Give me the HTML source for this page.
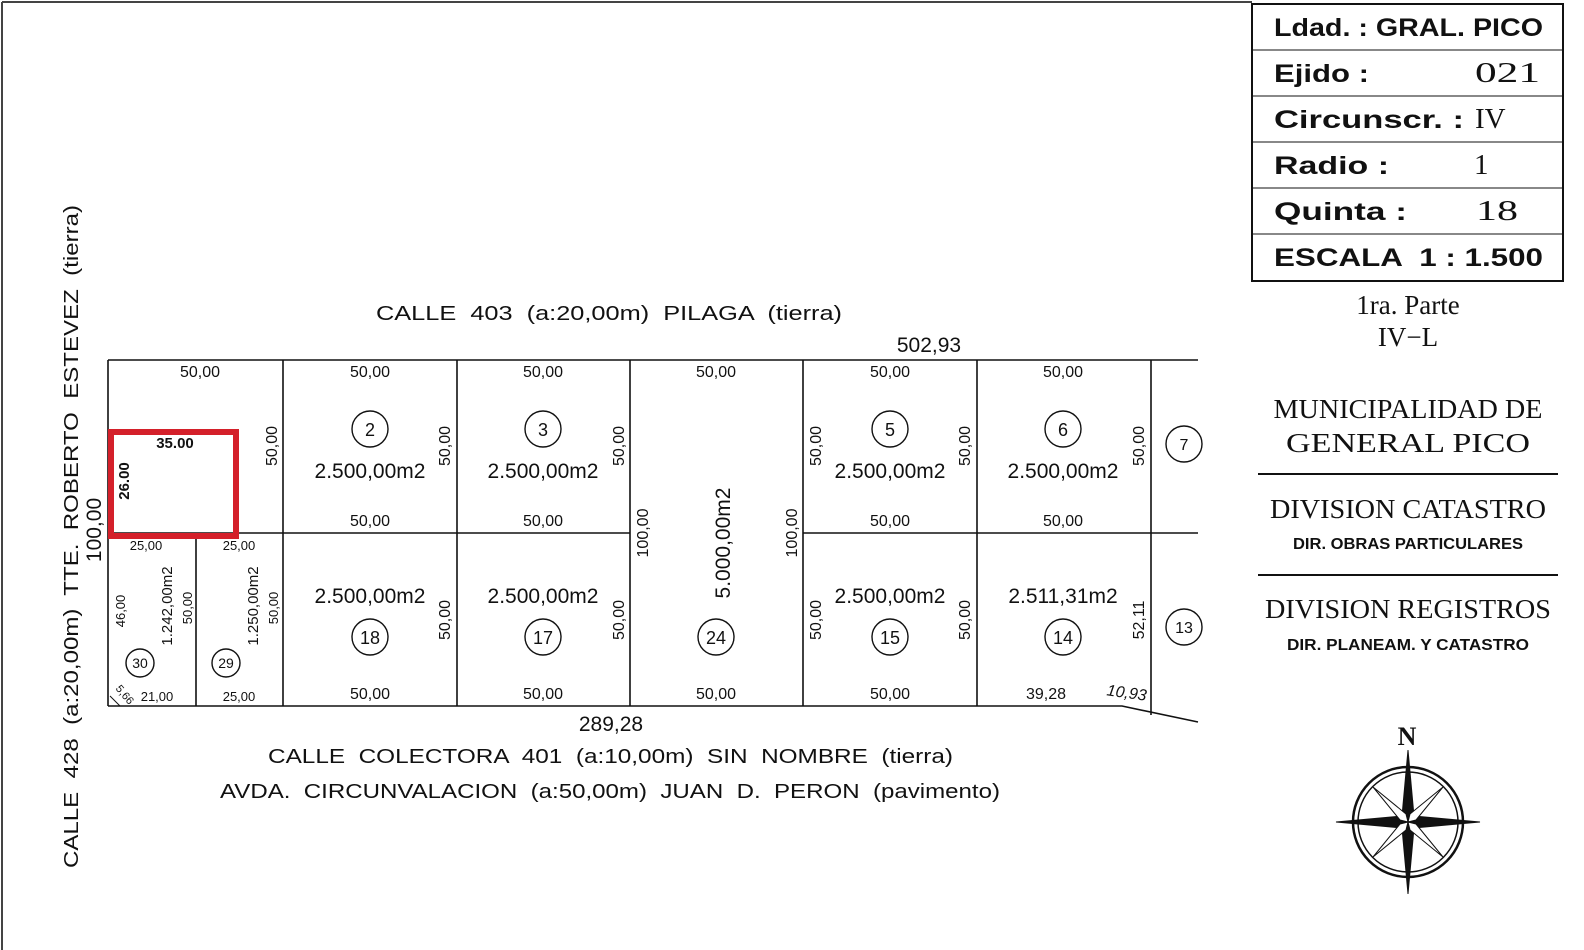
<!DOCTYPE html>
<html><head><meta charset="utf-8"><style>
html,body{margin:0;padding:0;background:#fff;}
svg{display:block;}
text{font-family:"Liberation Sans",sans-serif;fill:#111;white-space:pre;}
.d{font-size:16px;}
.a{font-size:21px;}
.c{font-size:18px;}
.s{font-family:"Liberation Serif",serif;}
</style></head><body>
<svg width="1584" height="950" viewBox="0 0 1584 950" xmlns="http://www.w3.org/2000/svg">
<g stroke="#444" stroke-width="2" fill="none">
<line x1="2" y1="2" x2="1252" y2="2"/>
<line x1="2" y1="2" x2="2" y2="950"/>
</g>
<g stroke="#111" stroke-width="2" fill="none">
<rect x="1252" y="4" width="311" height="277"/>
<line x1="1252" y1="50" x2="1563" y2="50" stroke-width="1"/>
<line x1="1252" y1="96" x2="1563" y2="96" stroke-width="1"/>
<line x1="1252" y1="142" x2="1563" y2="142" stroke-width="1"/>
<line x1="1252" y1="188" x2="1563" y2="188" stroke-width="1"/>
<line x1="1252" y1="234" x2="1563" y2="234" stroke-width="1"/>
</g>
<g font-size="25" font-weight="bold">
<text x="1274" y="36" font-weight="bold" textLength="269" lengthAdjust="spacingAndGlyphs">Ldad. : GRAL. PICO</text>
<text x="1274" y="82" font-weight="bold" textLength="95" lengthAdjust="spacingAndGlyphs">Ejido :</text>
<text x="1475" y="82" class="s" font-weight="normal" font-size="29" textLength="65" lengthAdjust="spacingAndGlyphs">021</text>
<text x="1274" y="128" font-weight="bold" textLength="190" lengthAdjust="spacingAndGlyphs">Circunscr. :</text>
<text x="1475" y="128" class="s" font-weight="normal" font-size="29">IV</text>
<text x="1274" y="174" font-weight="bold" textLength="115" lengthAdjust="spacingAndGlyphs">Radio :</text>
<text x="1474" y="174" class="s" font-weight="normal" font-size="29">1</text>
<text x="1274" y="220" font-weight="bold" textLength="133" lengthAdjust="spacingAndGlyphs">Quinta :</text>
<text x="1476" y="220" class="s" font-weight="normal" font-size="29" textLength="42" lengthAdjust="spacingAndGlyphs">18</text>
<text x="1274" y="266" font-weight="bold" textLength="269" lengthAdjust="spacingAndGlyphs">ESCALA  1 : 1.500</text>
</g>
<g text-anchor="middle">
<text x="1408" y="314" class="s" font-size="27">1ra. Parte</text>
<text x="1408" y="346" class="s" font-size="27">IV−L</text>
<text x="1408" y="418" class="s" font-size="27" textLength="269" lengthAdjust="spacingAndGlyphs">MUNICIPALIDAD DE</text>
<text x="1408" y="452" class="s" font-size="27" textLength="244" lengthAdjust="spacingAndGlyphs">GENERAL PICO</text>
<text x="1408" y="518" class="s" font-size="27" textLength="276" lengthAdjust="spacingAndGlyphs">DIVISION CATASTRO</text>
<text x="1408" y="549" font-size="16" font-weight="bold" textLength="230" lengthAdjust="spacingAndGlyphs">DIR. OBRAS PARTICULARES</text>
<text x="1408" y="618" class="s" font-size="27" textLength="286" lengthAdjust="spacingAndGlyphs">DIVISION REGISTROS</text>
<text x="1408" y="650" font-size="16" font-weight="bold" textLength="242" lengthAdjust="spacingAndGlyphs">DIR. PLANEAM. Y CATASTRO</text>
</g>
<line x1="1258" y1="474" x2="1558" y2="474" stroke="#111" stroke-width="2"/>
<line x1="1258" y1="575" x2="1558" y2="575" stroke="#111" stroke-width="2"/>
<text x="1407" y="745" class="s" font-size="26" font-weight="bold" text-anchor="middle">N</text>
<g transform="translate(1408,822)" stroke="#111" fill="none">
<circle r="55" stroke-width="2.5"/>
<circle r="50" stroke-width="1.5"/>
<g fill="#111" stroke-width="1">
<polygon points="0,-72 6,-6 0,0 -6,-6"/>
<polygon points="0,72 6,6 0,0 -6,6"/>
<polygon points="-72,0 -6,-6 0,0 -6,6"/>
<polygon points="72,0 6,-6 0,0 6,6"/>
<polygon points="-35,-35 -2,-8 0,0 -8,-2" fill="#fff"/>
<polygon points="35,-35 2,-8 0,0 8,-2" fill="#fff"/>
<polygon points="-35,35 -2,8 0,0 -8,2" fill="#fff"/>
<polygon points="35,35 2,8 0,0 8,2" fill="#fff"/>
</g>
</g>
<g stroke="#111" stroke-width="1.6" fill="none">
<line x1="108" y1="360" x2="1198" y2="360"/>
<line x1="108" y1="360" x2="108" y2="706"/>
<polyline points="108,706 1122,706 1198,722"/>
<line x1="108" y1="533" x2="630" y2="533"/>
<line x1="803" y1="533" x2="1198" y2="533"/>
<line x1="283" y1="360" x2="283" y2="706"/>
<line x1="457" y1="360" x2="457" y2="706"/>
<line x1="630" y1="360" x2="630" y2="706"/>
<line x1="803" y1="360" x2="803" y2="706"/>
<line x1="977" y1="360" x2="977" y2="706"/>
<line x1="1151" y1="360" x2="1151" y2="715"/>
<line x1="196" y1="533" x2="196" y2="706"/>
<line x1="110" y1="696" x2="120" y2="706" stroke-width="1"/>
</g>
<g font-size="20">
<text x="376" y="320" textLength="466" lengthAdjust="spacingAndGlyphs">CALLE  403  (a:20,00m)  PILAGA  (tierra)</text>
<text x="929" y="352" text-anchor="middle" font-size="21">502,93</text>
<text x="611" y="731" text-anchor="middle" font-size="21">289,28</text>
<text x="268" y="763" textLength="685" lengthAdjust="spacingAndGlyphs">CALLE  COLECTORA  401  (a:10,00m)  SIN  NOMBRE  (tierra)</text>
<text x="220" y="798" textLength="780" lengthAdjust="spacingAndGlyphs">AVDA.  CIRCUNVALACION  (a:50,00m)  JUAN  D.  PERON  (pavimento)</text>
<text transform="translate(78,868) rotate(-90)" textLength="663" lengthAdjust="spacingAndGlyphs">CALLE  428  (a:20,00m)  TTE.  ROBERTO  ESTEVEZ  (tierra)</text>
<text transform="translate(101,530) rotate(-90)" text-anchor="middle" font-size="21">100,00</text>
</g>
<g text-anchor="middle">
<text x="200" y="377" class="d">50,00</text>
<text x="370" y="377" class="d">50,00</text>
<text x="543" y="377" class="d">50,00</text>
<text x="716" y="377" class="d">50,00</text>
<text x="890" y="377" class="d">50,00</text>
<text x="1063" y="377" class="d">50,00</text>
<text x="370" y="526" class="d">50,00</text>
<text x="543" y="526" class="d">50,00</text>
<text x="890" y="526" class="d">50,00</text>
<text x="1063" y="526" class="d">50,00</text>
<text x="370" y="699" class="d">50,00</text>
<text x="543" y="699" class="d">50,00</text>
<text x="716" y="699" class="d">50,00</text>
<text x="890" y="699" class="d">50,00</text>
<text x="1046" y="699" class="d">39,28</text>
<text x="1126" y="698" class="d" font-style="italic" transform="rotate(8 1126 698)">10,93</text>
<text x="146" y="550" style="font-size:13px">25,00</text>
<text x="239" y="550" style="font-size:13px">25,00</text>
<text x="157" y="701" style="font-size:13px">21,00</text>
<text x="239" y="701" style="font-size:13px">25,00</text>
</g>
<g text-anchor="middle">
<text class="d" transform="translate(277,446) rotate(-90)">50,00</text>
<text class="d" transform="translate(450,446) rotate(-90)">50,00</text>
<text class="d" transform="translate(624,446) rotate(-90)">50,00</text>
<text class="d" transform="translate(821,446) rotate(-90)">50,00</text>
<text class="d" transform="translate(970,446) rotate(-90)">50,00</text>
<text class="d" transform="translate(1144,446) rotate(-90)">50,00</text>
<text class="d" transform="translate(450,620) rotate(-90)">50,00</text>
<text class="d" transform="translate(624,620) rotate(-90)">50,00</text>
<text class="d" transform="translate(821,620) rotate(-90)">50,00</text>
<text class="d" transform="translate(970,620) rotate(-90)">50,00</text>
<text class="d" transform="translate(1144,620) rotate(-90)">52,11</text>
<text class="d" transform="translate(648,533) rotate(-90)">100,00</text>
<text class="d" transform="translate(797,533) rotate(-90)">100,00</text>
<text class="a" transform="translate(730,543) rotate(-90)">5.000,00m2</text>
<text transform="translate(125,611) rotate(-90)" style="font-size:13px">46,00</text>
<text transform="translate(192,608) rotate(-90)" style="font-size:13px">50,00</text>
<text transform="translate(172,606) rotate(-90)" style="font-size:15px">1.242,00m2</text>
<text transform="translate(278,608) rotate(-90)" style="font-size:13px">50,00</text>
<text transform="translate(258,606) rotate(-90)" style="font-size:15px">1.250,00m2</text>
<text transform="translate(122,697) rotate(50)" style="font-size:11px">5,66</text>
</g>
<g text-anchor="middle">
<text x="370" y="478" class="a">2.500,00m2</text>
<text x="543" y="478" class="a">2.500,00m2</text>
<text x="890" y="478" class="a">2.500,00m2</text>
<text x="1063" y="478" class="a">2.500,00m2</text>
<text x="370" y="603" class="a">2.500,00m2</text>
<text x="543" y="603" class="a">2.500,00m2</text>
<text x="890" y="603" class="a">2.500,00m2</text>
<text x="1063" y="603" class="a">2.511,31m2</text>
</g>
<g stroke="#111" stroke-width="1.4" fill="none">
<circle cx="370" cy="429" r="18"/><circle cx="543" cy="429" r="18"/>
<circle cx="890" cy="429" r="18"/><circle cx="1063" cy="429" r="18"/>
<circle cx="1184" cy="444" r="18"/>
<circle cx="370" cy="637" r="18"/><circle cx="543" cy="637" r="18"/>
<circle cx="716" cy="637" r="18"/><circle cx="890" cy="637" r="18"/>
<circle cx="1063" cy="637" r="18"/><circle cx="1184" cy="627" r="18"/>
<circle cx="140" cy="663" r="14"/><circle cx="226" cy="663" r="14"/>
</g>
<g text-anchor="middle">
<text x="370" y="436" class="c">2</text><text x="543" y="436" class="c">3</text>
<text x="890" y="436" class="c">5</text><text x="1063" y="436" class="c">6</text>
<text x="1184" y="450" style="font-size:16px">7</text>
<text x="370" y="644" class="c">18</text><text x="543" y="644" class="c">17</text>
<text x="716" y="644" class="c">24</text><text x="890" y="644" class="c">15</text>
<text x="1063" y="644" class="c">14</text><text x="1184" y="633" style="font-size:16px">13</text>
<text x="140" y="668" style="font-size:14px">30</text>
<text x="226" y="668" style="font-size:14px">29</text>
</g>
<rect x="111" y="432" width="125" height="104" fill="none" stroke="#d4202a" stroke-width="6"/>
<text x="175" y="448" text-anchor="middle" font-size="15" font-weight="bold">35.00</text>
<text transform="translate(129,481) rotate(-90)" text-anchor="middle" font-size="15" font-weight="bold">26.00</text>
</svg>
</body></html>
